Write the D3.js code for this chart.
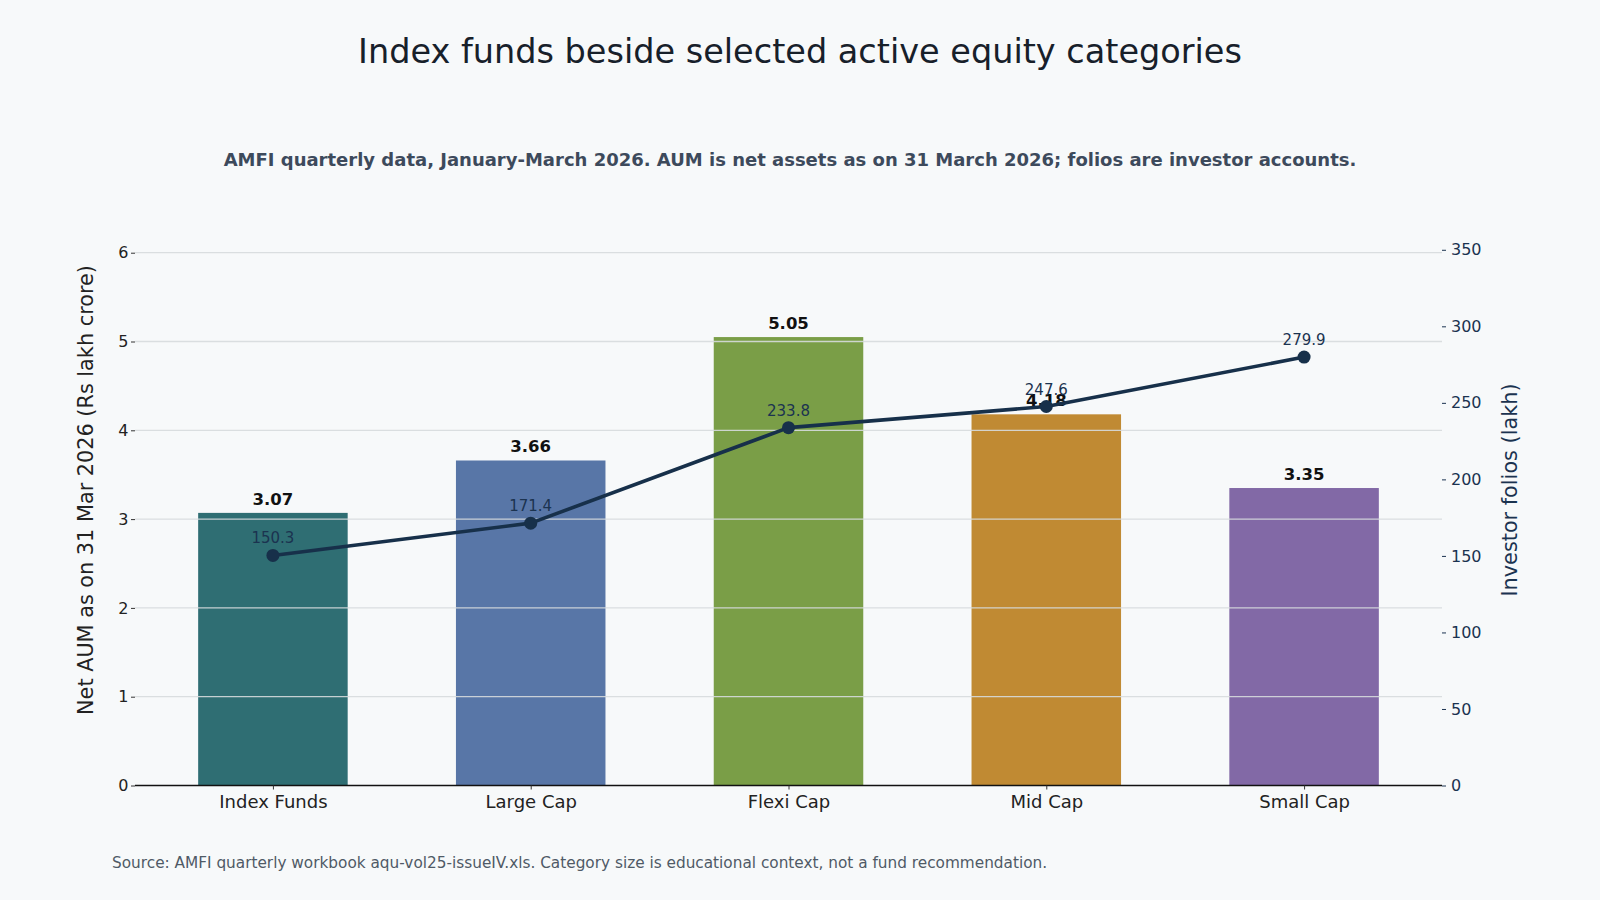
<!DOCTYPE html>
<html>
<head>
<meta charset="utf-8">
<script src="https://cdn.jsdelivr.net/npm/d3@7"></script>
<style>
  html, body { margin: 0; padding: 0; background: #f7f9fa; }
  svg { display: block; font-family: "DejaVu Sans", sans-serif; }
</style>
</head>
<body>
<svg id="chart" width="1600" height="900"></svg>
<script>
const categories = ["Index Funds", "Large Cap", "Flexi Cap", "Mid Cap", "Small Cap"];
const aumValues = [3.07, 3.66, 5.05, 4.18, 3.35];
const folioValues = [150.3, 171.4, 233.8, 247.6, 279.9];
const barColors = ["#2f6e73", "#5876a7", "#7a9e47", "#c08a33", "#8269a6"];
const leftTicks = [0, 1, 2, 3, 4, 5, 6];
const rightTicks = [0, 50, 100, 150, 200, 250, 300, 350];

const svg = d3.select("#chart");
svg.append("rect").attr("width", 1600).attr("height", 900).attr("fill", "#f7f9fa");

const plotLeft = 135, plotRight = 1442, plotTop = 225, plotBottom = 785.5;

const x = d3.scaleLinear().domain([-0.535, 4.535]).range([plotLeft, plotRight]);
const yL = d3.scaleLinear().domain([0, 6.312]).range([plotBottom, plotTop]);
const yR = d3.scaleLinear().domain([0, 366.2]).range([plotBottom, plotTop]);
const barW = x(0.58) - x(0);

// bars
svg.append("g").selectAll("rect").data(categories).join("rect")
  .attr("x", (d, i) => x(i) - barW / 2)
  .attr("y", (d, i) => yL(aumValues[i]))
  .attr("width", barW)
  .attr("height", (d, i) => yL(0) - yL(aumValues[i]))
  .attr("fill", (d, i) => barColors[i]);

// gridlines (drawn over bars)
svg.append("g").selectAll("line").data(leftTicks.filter(t => t > 0)).join("line")
  .attr("x1", plotLeft).attr("x2", plotRight)
  .attr("y1", d => yL(d)).attr("y2", d => yL(d))
  .attr("stroke", "#d6dadd").attr("stroke-width", 1.3).attr("stroke-opacity", 0.9);

// left axis
const leftAxis = d3.axisLeft(yL).tickValues(leftTicks).tickSize(4).tickPadding(2.5).tickFormat(d3.format("d"));
const gL = svg.append("g").attr("transform", `translate(${plotLeft},0)`).call(leftAxis);
gL.select(".domain").remove();
gL.selectAll(".tick line").attr("stroke", "#333").attr("stroke-width", 1);
gL.selectAll(".tick text").attr("font-size", 16).attr("fill", "#222").attr("font-family", "DejaVu Sans");

// right axis
const rightAxis = d3.axisRight(yR).tickValues(rightTicks).tickSize(4).tickPadding(5).tickFormat(d3.format("d"));
const gR = svg.append("g").attr("transform", `translate(${plotRight},0)`).call(rightAxis);
gR.select(".domain").remove();
gR.selectAll(".tick line").attr("stroke", "#1b3350").attr("stroke-width", 1);
gR.selectAll(".tick text").attr("font-size", 16).attr("fill", "#1b3350").attr("font-family", "DejaVu Sans");

// bottom axis
const bottomAxis = d3.axisBottom(x).tickValues(d3.range(categories.length)).tickSize(4).tickPadding(6)
  .tickFormat(i => categories[i]);
const gB = svg.append("g").attr("transform", `translate(0,${plotBottom})`).call(bottomAxis);
gB.select(".domain").attr("stroke", "#111").attr("stroke-width", 1.5).attr("d", `M${plotLeft},0H${plotRight}`);
gB.selectAll(".tick line").attr("stroke", "#333");
gB.selectAll(".tick text").attr("font-size", 18).attr("fill", "#222").attr("font-family", "DejaVu Sans");

// bar value labels
svg.append("g").selectAll("text").data(categories).join("text")
  .attr("x", (d, i) => x(i))
  .attr("y", (d, i) => yL(aumValues[i]) - 8)
  .attr("text-anchor", "middle")
  .attr("font-size", 16.5).attr("font-weight", "bold").attr("fill", "#111")
  .text((d, i) => aumValues[i].toFixed(2));

// folio line
const line = d3.line().x((d, i) => x(i)).y(d => yR(d));
svg.append("path").datum(folioValues)
  .attr("d", line).attr("fill", "none")
  .attr("stroke", "#17304a").attr("stroke-width", 3.6).attr("stroke-linejoin", "round");
svg.append("g").selectAll("circle").data(folioValues).join("circle")
  .attr("cx", (d, i) => x(i)).attr("cy", d => yR(d)).attr("r", 6.5)
  .attr("fill", "#17304a");
svg.append("g").selectAll("text").data(folioValues).join("text")
  .attr("x", (d, i) => x(i)).attr("y", d => yR(d) - 12)
  .attr("text-anchor", "middle").attr("font-size", 15).attr("fill", "#1b3350")
  .text(d => d.toFixed(1));

// axis titles
svg.append("text")
  .attr("transform", "translate(93,490) rotate(-90)")
  .attr("text-anchor", "middle").attr("font-size", 20.8).attr("fill", "#222")
  .text("Net AUM as on 31 Mar 2026 (Rs lakh crore)");
svg.append("text")
  .attr("transform", "translate(1517,490) rotate(-90)")
  .attr("text-anchor", "middle").attr("font-size", 20.8).attr("fill", "#1b3350")
  .text("Investor folios (lakh)");

// titles
svg.append("text").attr("x", 800).attr("y", 63).attr("text-anchor", "middle")
  .attr("font-size", 33.5).attr("fill", "#17202a")
  .text("Index funds beside selected active equity categories");
svg.append("text").attr("x", 790).attr("y", 166).attr("text-anchor", "middle")
  .attr("font-size", 18).attr("font-weight", "bold").attr("fill", "#3d4a5c")
  .text("AMFI quarterly data, January-March 2026. AUM is net assets as on 31 March 2026; folios are investor accounts.");
svg.append("text").attr("x", 112).attr("y", 868)
  .attr("font-size", 15.3).attr("fill", "#4f5a66")
  .text("Source: AMFI quarterly workbook aqu-vol25-issueIV.xls. Category size is educational context, not a fund recommendation.");
</script>
</body>
</html>
